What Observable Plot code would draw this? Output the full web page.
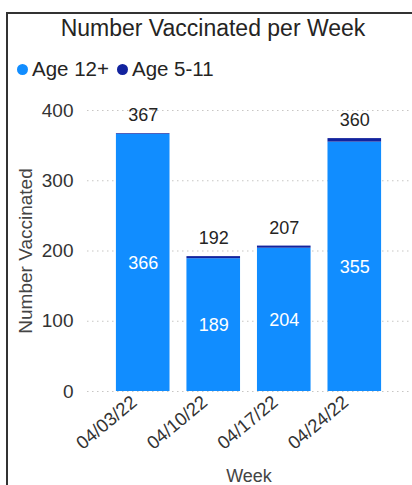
<!DOCTYPE html>
<html>
<head>
<meta charset="utf-8">
<script src="https://cdn.jsdelivr.net/npm/d3@7"></script>
<script src="https://cdn.jsdelivr.net/npm/@observablehq/plot@0.6"></script>
<style>
  html, body { margin: 0; padding: 0; background: #fff; }
  #wrap { position: relative; width: 412px; height: 485px; overflow: hidden; font-family: "Liberation Sans", Arial, sans-serif; }
  #frame { position: absolute; left: 6px; top: 12px; width: 420px; height: 480px; border-left: 2px solid #333; border-top: 2px solid #333; box-sizing: border-box; }
  #title { position: absolute; left: 0; width: 426px; top: 17px; text-align: center; font-size: 23px; line-height: 22px; color: #252423; }
  #legend { position: absolute; left: 17px; top: 59px; font-size: 20.5px; line-height: 20px; color: #252423; white-space: nowrap; }
  #legend .item { display: inline-block; margin-right: 8px; }
  #legend .dot { display: inline-block; width: 11px; height: 11px; border-radius: 50%; margin-right: 4px; vertical-align: 1px; }
  #chart { position: absolute; left: 0; top: 90px; }
</style>
</head>
<body>
<div id="wrap">
  <div id="frame"></div>
  <div id="title">Number Vaccinated per Week</div>
  <div id="legend"></div>
  <div id="chart"></div>
</div>
<script>
const weeks = ["04/03/22", "04/10/22", "04/17/22", "04/24/22"];
const series = ["Age 12+", "Age 5-11"];
const colors = ["#118DFF", "#12239E"];
const age12plus = [366, 189, 204, 355];
const age5to11 = [1, 3, 3, 5];
const totals = [367, 192, 207, 360];
const yTicks = [0, 100, 200, 300, 400];

const rows = [];
weeks.forEach((w, i) => {
  rows.push({week: w, series: series[0], value: age12plus[i]});
  rows.push({week: w, series: series[1], value: age5to11[i]});
});
const totalRows = weeks.map((w, i) => ({week: w, total: totals[i]}));
const innerRows = weeks.map((w, i) => ({week: w, value: age12plus[i]}));

// legend
const legend = document.getElementById("legend");
series.forEach((s, i) => {
  const item = document.createElement("span");
  item.className = "item";
  item.innerHTML = `<span class="dot" style="background:${colors[i]}"></span>${s}`;
  legend.appendChild(item);
});

const chart = Plot.plot({
  width: 412,
  height: 395,
  marginTop: 20,
  marginBottom: 94,
  marginLeft: 87,
  marginRight: 2,
  style: {fontFamily: "'Liberation Sans', Arial, sans-serif", background: "transparent"},
  x: {domain: weeks, paddingInner: 0.24, paddingOuter: 0.41, round: false, label: null},
  y: {domain: [0, 400], label: null},
  color: {domain: series, range: colors},
  marks: [
    Plot.ruleY(yTicks, {stroke: "#c8c6c4", strokeDasharray: "1.5,3.5", strokeWidth: 1.2}),
    Plot.barY(rows, Plot.stackY({x: "week", y: "value", fill: "series", order: series})),
    Plot.text(totalRows, {x: "week", y: "total", text: d => String(d.total), dy: -18, fontSize: 18, fill: "#252423"}),
    Plot.text(innerRows, {x: "week", y: d => d.value / 2, text: d => String(d.value), fontSize: 18, fill: "#ffffff"}),
    Plot.axisY({ticks: yTicks, tickSize: 0, tickPadding: 14, fontSize: 19, color: "#333", label: null}),
    Plot.axisX({tickSize: 0, tickRotate: -40, tickPadding: 6, dx: -9, dy: 2, fontSize: 18.5, color: "#333", label: null}),
    Plot.text(["Number Vaccinated"], {frameAnchor: "left", dx: -62, rotate: -90, textAnchor: "middle", lineAnchor: "middle", fontSize: 19, fill: "#444"}),
    Plot.text(["Week"], {frameAnchor: "bottom", dy: 85, lineAnchor: "middle", fontSize: 18, fill: "#444"})
  ]
});
document.getElementById("chart").appendChild(chart);
</script>
</body>
</html>
